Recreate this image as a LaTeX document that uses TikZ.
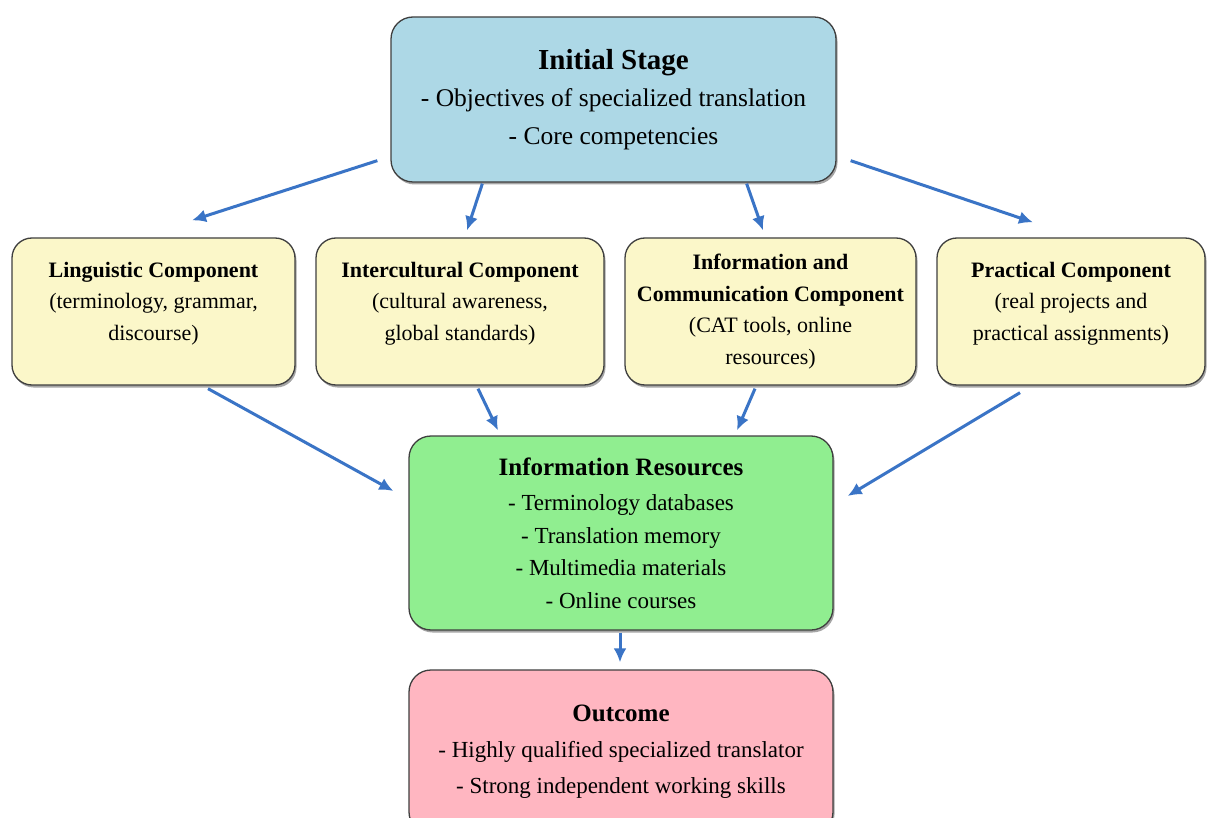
\documentclass[tikz,border=0pt]{standalone}
\usepackage{fontspec}
\setmainfont{Liberation Serif}
\usetikzlibrary{arrows.meta,calc,shadows}
\definecolor{initblue}{HTML}{ADD8E6}
\definecolor{compyellow}{HTML}{FBF7C9}
\definecolor{resgreen}{HTML}{90EE90}
\definecolor{outpink}{HTML}{FFB6C1}
\definecolor{bordergray}{HTML}{3F3F3F}
\definecolor{arrowblue}{HTML}{3A74C6}
\begin{document}
\begin{tikzpicture}[x=1pt,y=-1pt,
  box/.style={draw=bordergray, line width=1.3pt, rounded corners=22pt, align=center, inner sep=0pt,
    drop shadow={shadow xshift=1.5pt, shadow yshift=-2.5pt, opacity=0.35, fill=black}},
  comp/.style={box, fill=compyellow, minimum height=147pt, rounded corners=20pt, font=\fontsize{22}{31.5}\selectfont},
  arr/.style={draw=arrowblue, line width=3pt, -{Latex[length=14pt,width=13pt]}}]
\useasboundingbox[fill=white] (0,0) rectangle (1207,818);

\node[box, fill=initblue, minimum width=445pt, minimum height=165pt, font=\fontsize{25.5}{38}\selectfont] (init) at (613.5,99.5)
  {{\fontsize{29}{38}\selectfont\bfseries Initial Stage}\\[-1pt] - Objectives of specialized translation\\ - Core competencies};

\node[comp, minimum width=283pt] (ling) at (153.5,311.5)
  {\textbf{Linguistic Component}\\ (terminology, grammar,\\ discourse)\\[-20pt]\strut};
\node[comp, minimum width=288pt] (inter) at (460,311.5)
  {\textbf{Intercultural Component}\\ (cultural awareness,\\ global standards)\\[-20pt]\strut};
\node[comp, minimum width=291pt] (icc) at (770.5,311.5)
  {\textbf{Information and}\\ \textbf{Communication Component}\\ (CAT tools, online\\ resources)};
\node[comp, minimum width=268pt] (prac) at (1071,311.5)
  {\textbf{Practical Component}\\ (real projects and\\ practical assignments)\\[-20pt]\strut};

\node[box, fill=resgreen, minimum width=424pt, minimum height=194pt, font=\fontsize{23}{32.5}\selectfont] (res) at (621,533)
  {{\fontsize{25}{32.5}\selectfont\bfseries Information Resources}\\[3pt] - Terminology databases\\ - Translation memory\\ - Multimedia materials\\ - Online courses};

\node[box, fill=outpink, minimum width=424pt, minimum height=164pt, font=\fontsize{23}{36}\selectfont] (out) at (621,752)
  {{\fontsize{25}{36}\selectfont\bfseries Outcome}\\ - Highly qualified specialized translator\\ - Strong independent working skills};

\draw[arr] ($(init.south west)+(-13,-22)$) -- ($(ling.north)+(38.5,-17)$);
\draw[arr] ($(init.south west)+(92,1)$) -- ($(inter.north)+(7,-7)$);
\draw[arr] ($(init.south east)+(-90,1)$) -- ($(icc.north)+(-7.5,-7)$);
\draw[arr] ($(init.south east)+(14,-22)$) -- ($(prac.north)+(-38,-15)$);
\draw[arr] ($(ling.south)+(54.5,3)$) -- ($(res.west)+(-15,-42)$);
\draw[arr] ($(inter.south)+(18,3)$) -- ($(res.north)+(-123,-5)$);
\draw[arr] ($(icc.south)+(-15.5,3)$) -- ($(res.north)+(116,-5)$);
\draw[arr] ($(prac.south)+(-51,7)$) -- ($(res.east)+(14,-37)$);
\draw[arr] ($(res.south)+(-1,2)$) -- ($(out.north)+(-1,-7)$);
\end{tikzpicture}
\end{document}
